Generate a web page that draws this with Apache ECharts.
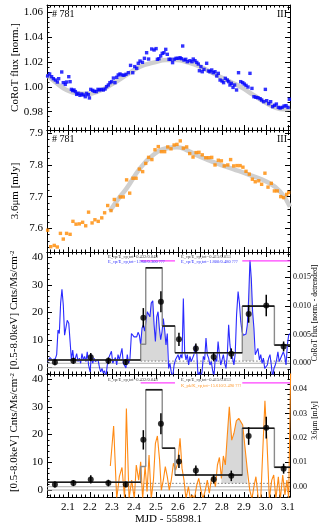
<!DOCTYPE html>
<html><head><meta charset="utf-8">
<script src="https://cdn.jsdelivr.net/npm/echarts@6/dist/echarts.min.js"></script>
<style>html,body{margin:0;padding:0;background:#fff}#c{width:327px;height:531px}</style>
</head><body><div id="c"></div>
<script>
// ---------------- DATA ----------------
const X_MIN = 2.005, X_MAX = 3.11;

// Panel 1: CoRoT normalised flux (points) and smooth model
const corotFlux = [[2.008,1.0088],[2.017,1.0104],[2.026,1.0082],[2.034,1.0066],[2.043,1.0055],[2.052,1.0039],[2.058,1.0066],[2.072,1.0120],[2.079,1.0034],[2.088,1.0020],[2.094,1.0039],[2.104,1.0082],[2.110,1.0042],[2.116,0.9980],[2.122,0.9970],[2.128,0.9975],[2.134,0.9962],[2.140,0.9940],[2.147,0.9948],[2.155,0.9932],[2.163,0.9943],[2.170,0.9935],[2.179,0.9921],[2.185,0.9948],[2.193,0.9937],[2.198,0.9911],[2.204,0.9980],[2.213,0.9972],[2.220,0.9964],[2.229,0.9962],[2.237,0.9980],[2.244,0.9975],[2.252,0.9980],[2.261,0.9975],[2.269,0.9983],[2.276,1.0002],[2.284,1.0015],[2.291,1.0034],[2.299,1.0042],[2.307,1.0071],[2.314,1.0034],[2.322,1.0077],[2.329,1.0096],[2.337,1.0104],[2.346,1.0096],[2.355,1.0093],[2.364,1.0101],[2.375,1.0114],[2.385,1.0173],[2.395,1.0114],[2.404,1.0163],[2.413,1.0149],[2.420,1.0190],[2.428,1.0208],[2.439,1.0198],[2.448,1.0230],[2.458,1.0275],[2.467,1.0224],[2.481,1.0305],[2.492,1.0297],[2.501,1.0308],[2.507,1.0222],[2.514,1.0227],[2.522,1.0249],[2.529,1.0270],[2.537,1.0275],[2.545,1.0302],[2.552,1.0262],[2.560,1.0222],[2.567,1.0222],[2.576,1.0195],[2.583,1.0222],[2.592,1.0230],[2.601,1.0230],[2.610,1.0235],[2.617,1.0227],[2.622,1.0329],[2.628,1.0216],[2.636,1.0222],[2.643,1.0203],[2.655,1.0211],[2.664,1.0203],[2.670,1.0224],[2.678,1.0211],[2.686,1.0197],[2.693,1.0184],[2.698,1.0130],[2.705,1.0163],[2.711,1.0122],[2.719,1.0141],[2.731,1.0190],[2.739,1.0128],[2.746,1.0122],[2.754,1.0136],[2.761,1.0114],[2.769,1.0122],[2.777,1.0088],[2.784,1.0109],[2.792,1.0055],[2.801,1.0047],[2.808,1.0034],[2.816,1.0069],[2.825,1.0055],[2.831,1.0042],[2.837,1.0015],[2.843,1.0029],[2.851,0.9996],[2.858,1.0015],[2.867,0.9975],[2.876,1.0114],[2.886,1.0042],[2.895,1.0034],[2.902,1.0023],[2.910,1.0012],[2.919,0.9999],[2.928,1.0109],[2.937,0.9988],[2.946,0.9921],[2.955,0.9916],[2.964,0.9913],[2.974,0.9905],[2.981,0.9894],[2.990,0.9881],[2.998,0.9980],[3.004,0.9889],[3.013,0.9865],[3.022,0.9881],[3.031,0.9841],[3.040,0.9852],[3.048,0.9862],[3.057,0.9835],[3.065,0.9830],[3.074,0.9835],[3.083,0.9846],[3.092,0.9849],[3.101,0.9835],[3.107,0.9900]];
const corotModel = [[2.005,1.0096],[2.049,1.0029],[2.094,0.9975],[2.140,0.9948],[2.185,0.9943],[2.246,0.9970],[2.307,1.0029],[2.367,1.0096],[2.428,1.0163],[2.489,1.0195],[2.549,1.0216],[2.595,1.0216],[2.640,1.0200],[2.701,1.0163],[2.761,1.0109],[2.822,1.0055],[2.883,1.0002],[2.943,0.9935],[3.004,0.9868],[3.049,0.9830],[3.080,0.9820],[3.110,0.9828]];

// Panel 2: Spitzer 3.6um flux (points) and smooth model
const spitzerFlux = [[2.008,7.594],[2.022,7.542],[2.038,7.546],[2.052,7.541],[2.066,7.584],[2.079,7.566],[2.094,7.584],[2.110,7.581],[2.123,7.622],[2.137,7.613],[2.152,7.614],[2.167,7.619],[2.181,7.608],[2.194,7.651],[2.210,7.617],[2.223,7.627],[2.238,7.622],[2.254,7.633],[2.267,7.649],[2.281,7.672],[2.296,7.656],[2.311,7.691],[2.325,7.673],[2.338,7.699],[2.352,7.699],[2.367,7.753],[2.381,7.711],[2.396,7.758],[2.410,7.758],[2.425,7.787],[2.440,7.779],[2.454,7.805],[2.467,7.824],[2.482,7.817],[2.496,7.848],[2.511,7.858],[2.525,7.842],[2.540,7.842],[2.554,7.857],[2.569,7.851],[2.583,7.863],[2.596,7.865],[2.611,7.876],[2.625,7.853],[2.640,7.857],[2.654,7.836],[2.669,7.825],[2.683,7.839],[2.696,7.840],[2.711,7.832],[2.727,7.823],[2.740,7.823],[2.754,7.824],[2.769,7.800],[2.784,7.815],[2.798,7.813],[2.811,7.797],[2.827,7.800],[2.840,7.817],[2.854,7.797],[2.869,7.798],[2.883,7.798],[2.896,7.793],[2.910,7.780],[2.925,7.771],[2.939,7.755],[2.952,7.747],[2.968,7.750],[2.981,7.739],[2.996,7.774],[3.010,7.730],[3.025,7.742],[3.039,7.718],[3.052,7.718],[3.068,7.700],[3.081,7.697],[3.095,7.707],[3.104,7.713]];
const spitzerModel = [[2.291,7.655],[2.337,7.700],[2.367,7.726],[2.428,7.789],[2.489,7.832],[2.549,7.853],[2.595,7.856],[2.640,7.847],[2.701,7.826],[2.777,7.805],[2.852,7.787],[2.928,7.768],[3.004,7.747],[3.065,7.716],[3.110,7.668]];

// Panels 3/4: detrended light curves (right axes)
const corotDetrended = [[2.008,0.0003],[2.019,0.0010],[2.028,0.0006],[2.034,0.0009],[2.043,0.0008],[2.049,0.0015],[2.055,0.0058],[2.061,0.0052],[2.067,0.0105],[2.073,0.0129],[2.079,0.0102],[2.085,0.0049],[2.091,0.0046],[2.097,0.0075],[2.104,0.0070],[2.110,0.0038],[2.116,0.0006],[2.122,0.0023],[2.128,0.0003],[2.134,0.0009],[2.140,0.0017],[2.146,0.0003],[2.152,0.0009],[2.158,0.0000],[2.164,0.0017],[2.170,0.0006],[2.176,0.0012],[2.182,0.0003],[2.188,0.0020],[2.194,-0.0003],[2.201,-0.0015],[2.207,0.0015],[2.213,0.0000],[2.219,0.0009],[2.225,0.0003],[2.231,0.0000],[2.237,0.0006],[2.243,-0.0006],[2.249,-0.0015],[2.255,-0.0009],[2.261,-0.0017],[2.267,-0.0013],[2.273,-0.0025],[2.279,-0.0003],[2.285,0.0009],[2.292,0.0006],[2.298,0.0021],[2.304,0.0000],[2.310,0.0003],[2.316,0.0010],[2.322,-0.0003],[2.328,0.0015],[2.334,0.0006],[2.340,0.0003],[2.346,0.0026],[2.352,0.0000],[2.358,0.0003],[2.364,-0.0008],[2.370,0.0015],[2.376,0.0000],[2.382,0.0006],[2.389,0.0052],[2.395,0.0049],[2.401,0.0046],[2.407,0.0044],[2.413,0.0046],[2.419,0.0054],[2.425,0.0049],[2.431,0.0032],[2.437,0.0061],[2.443,0.0067],[2.449,0.0056],[2.455,0.0073],[2.461,0.0090],[2.467,0.0093],[2.473,0.0081],[2.479,0.0105],[2.486,0.0109],[2.492,0.0067],[2.498,0.0038],[2.504,0.0081],[2.510,0.0090],[2.516,0.0061],[2.522,0.0041],[2.528,0.0055],[2.534,0.0078],[2.540,0.0058],[2.546,0.0032],[2.552,0.0052],[2.558,-0.0009],[2.564,0.0000],[2.570,-0.0015],[2.576,-0.0025],[2.583,-0.0003],[2.589,0.0006],[2.595,0.0009],[2.601,0.0015],[2.607,0.0006],[2.613,0.0015],[2.619,0.0009],[2.625,0.0113],[2.631,0.0020],[2.637,0.0006],[2.643,0.0015],[2.649,-0.0003],[2.655,0.0012],[2.661,0.0003],[2.667,0.0009],[2.673,0.0015],[2.680,0.0032],[2.686,0.0020],[2.692,-0.0025],[2.698,-0.0015],[2.704,-0.0025],[2.710,-0.0015],[2.716,0.0012],[2.722,0.0006],[2.728,0.0044],[2.734,0.0015],[2.740,0.0009],[2.746,-0.0003],[2.752,0.0003],[2.758,-0.0012],[2.764,-0.0025],[2.770,0.0009],[2.777,0.0003],[2.783,0.0038],[2.789,0.0015],[2.795,-0.0003],[2.801,0.0006],[2.807,0.0015],[2.813,0.0000],[2.819,-0.0009],[2.825,0.0015],[2.831,0.0067],[2.837,0.0032],[2.843,0.0015],[2.849,0.0009],[2.855,-0.0003],[2.861,0.0017],[2.867,0.0084],[2.874,0.0125],[2.880,0.0105],[2.886,0.0073],[2.892,0.0055],[2.898,0.0049],[2.904,0.0052],[2.910,0.0051],[2.916,0.0067],[2.922,0.0113],[2.928,0.0180],[2.934,0.0148],[2.940,0.0090],[2.946,0.0061],[2.952,0.0015],[2.958,0.0017],[2.964,0.0026],[2.971,0.0006],[2.977,0.0015],[2.983,0.0000],[2.989,0.0009],[2.995,-0.0009],[3.001,-0.0012],[3.007,-0.0003],[3.013,0.0009],[3.019,0.0015],[3.025,-0.0003],[3.031,-0.0025],[3.037,-0.0009],[3.043,-0.0003],[3.049,0.0006],[3.055,0.0020],[3.061,0.0003],[3.068,0.0006],[3.074,0.0015],[3.080,0.0020],[3.086,0.0012],[3.092,-0.0003],[3.098,0.0032],[3.104,0.0049],[3.110,0.0052]];
const spitzerDetrended = [[2.293,0.0085],[2.308,0.0249],[2.322,-0.0050],[2.334,0.0041],[2.346,0.0079],[2.358,-0.0050],[2.366,0.0321],[2.378,-0.0050],[2.390,0.0027],[2.402,-0.0050],[2.411,0.0089],[2.422,0.0027],[2.431,0.0102],[2.440,-0.0050],[2.451,0.0085],[2.460,-0.0020],[2.469,0.0130],[2.479,-0.0050],[2.489,0.0027],[2.498,0.0178],[2.507,0.0208],[2.517,0.0109],[2.525,-0.0014],[2.534,0.0027],[2.543,0.0082],[2.552,0.0041],[2.561,-0.0014],[2.570,0.0027],[2.580,0.0096],[2.590,0.0068],[2.599,0.0096],[2.610,0.0198],[2.619,0.0075],[2.628,0.0027],[2.637,-0.0050],[2.648,0.0000],[2.657,-0.0050],[2.666,-0.0034],[2.675,-0.0050],[2.686,0.0007],[2.695,0.0034],[2.705,-0.0014],[2.714,-0.0050],[2.725,-0.0014],[2.734,0.0027],[2.743,-0.0027],[2.752,0.0027],[2.761,0.0041],[2.771,0.0000],[2.780,0.0089],[2.789,0.0120],[2.798,0.0034],[2.807,0.0126],[2.816,0.0089],[2.825,0.0212],[2.834,0.0328],[2.845,0.0191],[2.855,0.0219],[2.866,0.0270],[2.877,0.0280],[2.886,0.0273],[2.895,0.0253],[2.905,0.0164],[2.916,0.0068],[2.927,-0.0014],[2.937,-0.0050],[2.946,0.0000],[2.955,0.0041],[2.966,-0.0050],[2.977,-0.0050],[2.987,0.0164],[2.996,0.0352],[3.005,0.0191],[3.016,-0.0050],[3.027,0.0027],[3.036,0.0048],[3.046,-0.0050],[3.057,0.0041],[3.066,-0.0050],[3.077,0.0048],[3.087,-0.0034],[3.096,0.0027],[3.104,-0.0050],[3.113,0.0480]];
const corotFillWindows = [[2.431, 2.552], [2.892, 2.946]];
const spitzerFillWindows = [[2.798, 2.916]];
const corotFillBase = 0.0004, spitzerFillBase = 0.0014;

// X-ray light curve (binned points with errors) and block histogram
const xrayTime = [2.041, 2.125, 2.204, 2.284, 2.363, 2.443, 2.523, 2.605, 2.682, 2.763, 2.843, 2.922, 3.002, 3.081];
const xrayRate = [2.0, 2.5, 3.8, 2.5, 2.0, 18.1, 23.9, 10.3, 7.0, 3.9, 5.1, 19.5, 22.5, 7.7];
const xrayErr  = [1.1, 1.1, 1.5, 1.2, 1.0, 3.5, 3.8, 2.4, 1.8, 1.6, 1.9, 3.2, 3.9, 1.8];
const binEdges = [2.005, 2.431, 2.454, 2.529, 2.587, 2.893, 3.039, 3.11];
const binRates = [2.8, 8.5, 36.2, 15.1, 5.4, 22.3, 8.2];
const darkBins = [0, 2, 3, 4, 5, 6];
const quiescentRate = 2.4;
const flareStart = [2.431, 2.893];
const flareEnd = [2.587, 3.11];
const flareMarkLevel = 38.7;

// ---------------- CHART ----------------
const FONT = "'Liberation Serif','DejaVu Serif',serif";
const chart = echarts.init(document.getElementById('c'), null, {renderer: 'canvas'});
const G = [[5, 125], [130, 122], [252, 122], [374, 123]];
const grid = G.map(([t, h]) => ({left: 47, top: t, width: 243, height: h, containLabel: false, outerBoundsMode: 'none'}));
const isMult = (v, s) => Math.abs(v / s - Math.round(v / s)) < 1e-6;

function xAx(g, bottom) {
  const show = bottom && g === 3;
  return {
    type: 'value', gridIndex: g, position: bottom ? 'bottom' : 'top', min: X_MIN, max: X_MAX, splitNumber: 10,
    axisLine: {show: true, onZero: false, lineStyle: {color: '#000', width: 1}},
    axisTick: {show: true, inside: true, length: 5, lineStyle: {color: '#000'}},
    minorTick: {show: true, splitNumber: 5, length: 2.5, lineStyle: {color: '#000'}},
    splitLine: {show: false},
    axisLabel: {show: show, formatter: v => isMult(v, 0.1) ? v.toFixed(1) : '', color: '#000', fontFamily: FONT, fontSize: 11, margin: 5},
    name: show ? 'MJD - 55898.1' : '', nameLocation: 'middle', nameGap: 17, nameMoveOverlap: false,
    nameTextStyle: {fontFamily: FONT, fontSize: 11, color: '#000'}
  };
}
function yAx(g, right, min, max, step, dec, name, labels, fs, shift) {
  return {
    type: 'value', gridIndex: g, position: right ? 'right' : 'left', min: min, max: max, splitNumber: 5,
    axisLine: {show: true, onZero: false, lineStyle: {color: '#000', width: 1}},
    axisTick: {show: true, inside: true, length: 5, lineStyle: {color: '#000'}},
    minorTick: {show: true, splitNumber: 5, length: 2.5, lineStyle: {color: '#000'}},
    splitLine: {show: false},
    axisLabel: {show: labels, formatter: v => isMult(v, step) ? v.toFixed(dec) : '', color: '#000', fontFamily: FONT, fontSize: fs, margin: right ? 3 : 4},
    name: name, nameLocation: 'middle', nameRotate: 90, nameGap: right ? 21.5 : 26.5, nameMoveOverlap: false,
    nameTextStyle: {fontFamily: FONT, fontSize: right ? 7.5 : 11, color: '#000',
      padding: shift ? [0, 0, 0, shift] : 0,
      rich: {s: {fontFamily: FONT, fontSize: 7, verticalAlign: 'top', padding: [0, 0, 5, 0]}}}
  };
}
const xAxis = [];
for (let g = 0; g < 4; g++) { xAxis.push(xAx(g, true)); xAxis.push(xAx(g, false)); }
const xrName = '[0.5-8.0keV] Cnts/Ms/cm{s|-2}';
const yAxis = [
  yAx(0, false, 0.9653, 1.0659, 0.02, 2, 'CoRoT flux [norm.]', true, 11),
  yAx(0, true, 0.9653, 1.0659, 0.02, 2, '', false, 8),
  yAx(1, false, 7.5252, 7.9104, 0.1, 1, '3.6\u03bcm [mJy]', true, 11),
  yAx(1, true, 7.5252, 7.9104, 0.1, 1, '', false, 8),
  yAx(2, false, -2.28, 41.92, 10, 0, xrName, true, 11, 6),
  yAx(2, true, -0.00187, 0.01941, 0.005, 3, 'CoRoT flux [norm. - detrended]', true, 8),
  yAx(3, false, -2.53, 41.88, 10, 0, xrName, true, 11, 6),
  yAx(3, true, -0.00422, 0.0462, 0.01, 2, '3.6\u03bcm [mJy]', true, 8, 30)
];

const series = [];
// panel 1
series.push({type: 'line', xAxisIndex: 0, yAxisIndex: 0, data: corotModel, smooth: true, symbol: 'none', lineStyle: {color: '#cfcfcf', width: 4.5}, z: 1});
series.push({type: 'scatter', xAxisIndex: 0, yAxisIndex: 0, data: corotFlux, symbol: 'rect', symbolSize: 3.4, itemStyle: {color: '#0000ff'}, z: 2});
// panel 2
series.push({type: 'line', xAxisIndex: 2, yAxisIndex: 2, data: spitzerModel, smooth: true, symbol: 'none', lineStyle: {color: '#cfcfcf', width: 4.5}, z: 1});
series.push({type: 'scatter', xAxisIndex: 2, yAxisIndex: 2, data: spitzerFlux, symbol: 'rect', symbolSize: 3.4, itemStyle: {color: '#ff8a00'}, z: 2});

function segSeries(xi, yi, data, color, width, z, type) {
  return {type: 'custom', xAxisIndex: xi, yAxisIndex: yi, clip: true, z: z, data: data,
    encode: {x: [0, 1], y: [2, 3]},
    renderItem: (p, api) => {
      const a = api.coord([api.value(0), api.value(2)]);
      const b = api.coord([api.value(1), api.value(3)]);
      return {type: 'line', shape: {x1: a[0], y1: a[1], x2: b[0], y2: b[1]},
        style: {stroke: color, lineWidth: width, lineDash: type === 'dotted' ? [1.5, 2] : null}};
    }};
}

function xrayPanel(g, curve, curveColor, windows, base) {
  const xi = 2 * g, yl = 2 * g, yr = 2 * g + 1;
  windows.forEach(w => {
    series.push({type: 'line', xAxisIndex: xi, yAxisIndex: yr, symbol: 'none', z: 1,
      data: curve.filter(p => p[0] >= w[0] - 1e-9 && p[0] <= w[1] + 1e-9),
      lineStyle: {width: 0, opacity: 0}, areaStyle: {color: '#d8d8d8', opacity: 1, origin: base}});
  });
  // reference lines
  series.push(segSeries(xi, yl, [[X_MIN, X_MAX, 0, 0]], '#b0b0b0', 1, 2));
  series.push(segSeries(xi, yr, [[X_MIN, X_MAX, 0, 0]], '#b0b0b0', 1, 2));
  series.push(segSeries(xi, yl, [[flareStart[0], X_MAX, quiescentRate, quiescentRate]], '#777', 1, 2, 'dotted'));
  // detrended light curve
  series.push({type: 'line', xAxisIndex: xi, yAxisIndex: yr, data: curve, symbol: 'none', z: 3,
    lineStyle: {color: curveColor, width: 1.1}});
  // histogram (full step, grey) and dark levels
  const step = [];
  for (let i = 0; i < binRates.length; i++) { step.push([binEdges[i], binRates[i]]); step.push([binEdges[i + 1], binRates[i]]); }
  series.push({type: 'line', xAxisIndex: xi, yAxisIndex: yl, data: step, symbol: 'none', z: 4,
    lineStyle: {color: '#8a8a8a', width: 1.4}});
  series.push(segSeries(xi, yl, darkBins.map(i => [binEdges[i], binEdges[i + 1], binRates[i], binRates[i]]), '#1a1a1a', 1.6, 5));
  // flare intervals
  series.push(segSeries(xi, yl, flareStart.map((s, i) => [s, flareEnd[i], flareMarkLevel, flareMarkLevel]), '#ff40ff', 1.3, 5));
  // error bars + points
  series.push(segSeries(xi, yl, xrayTime.map((t, i) => [t, t, xrayRate[i] - xrayErr[i], xrayRate[i] + xrayErr[i]]), '#000', 1.5, 6));
  series.push({type: 'scatter', xAxisIndex: xi, yAxisIndex: yl, z: 7, data: xrayTime.map((t, i) => [t, xrayRate[i]]),
    symbol: 'circle', symbolSize: 6, itemStyle: {color: '#000'}});
}
xrayPanel(2, corotDetrended, '#2a2aff', corotFillWindows, corotFillBase);
xrayPanel(3, spitzerDetrended, '#ff8a14', spitzerFillWindows, spitzerFillBase);

function txt(x, y, s, size, color, align) {
  return {type: 'text', left: align === 'right' ? null : x, right: align === 'right' ? 327 - x : null, top: y, z: 100,
    style: {text: s, fontFamily: FONT, fontSize: size, fill: color}};
}
const graphic = [
  txt(52, 9, '# 781', 10, '#000'), txt(287, 9, 'III', 10, '#000', 'right'),
  txt(52, 134, '# 781', 10, '#000'), txt(287, 134, 'III', 10, '#000', 'right'),
  txt(108, 254, 'E_cp/E_cp,tot=0.432/0.048', 4.5, '#444'),
  txt(108, 259, 'E_cp/E_cp,tot=1.960/0.300 ???', 4.5, '#3333ff'),
  txt(181, 254, 'E_cp/E_cp,tot=0.415/0.053', 4.5, '#444'),
  txt(181, 259, 'E_cp/E_cp,tot=1.800/0.480 ???', 4.5, '#3333ff'),
  txt(108, 377, 'E_cp/E_cp,tot=0.432/0.048', 4.5, '#444'),
  txt(181, 377, 'E_cp/E_cp,tot=0.415/0.053', 4.5, '#444'),
  txt(181, 383, 'K_pk/K_cp,tot=15.610/2.490 ???', 4.5, '#ff9a30')
];

chart.setOption({animation: false, backgroundColor: '#fff', grid, xAxis, yAxis, series, graphic});
</script></body></html>
